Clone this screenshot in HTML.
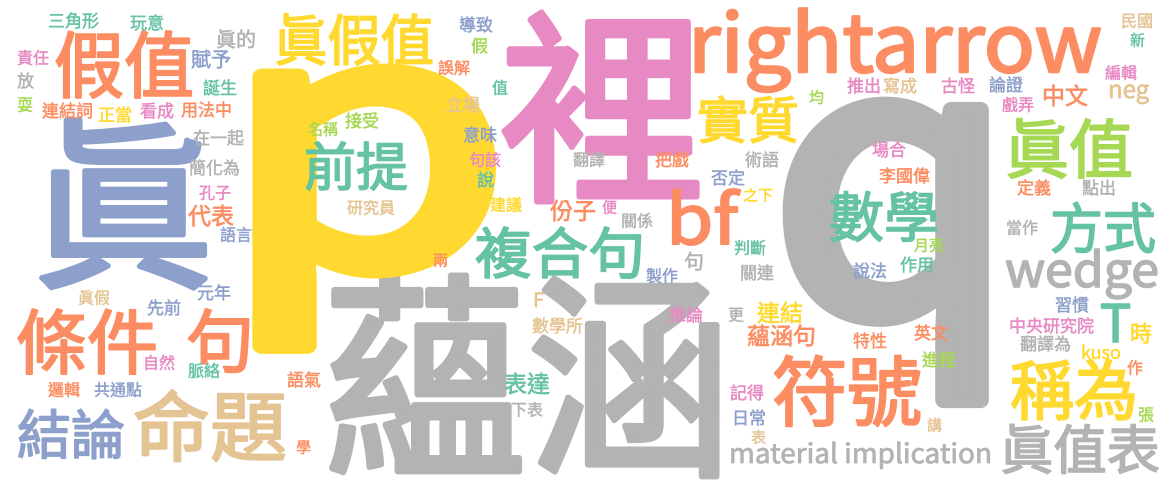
<!DOCTYPE html>
<html><head><meta charset="utf-8">
<style>
html,body{margin:0;padding:0;background:#fff;width:1175px;height:482px;overflow:hidden;}
svg{display:block;}
text{font-family:"Noto Sans CJK TC","Liberation Sans",sans-serif;stroke-linejoin:round;stroke-linecap:round;}
</style></head>
<body>
<svg id="cloud" width="1175" height="482" viewBox="0 0 1175 482" xmlns="http://www.w3.org/2000/svg"></svg>
<script>
const C={T:"#66c2a5",O:"#fc8d62",B:"#8da0cb",P:"#e78ac3",G:"#a6d854",Y:"#ffd92f",K:"#e5c494",R:"#b3b3b3"};
// [text, x, inkTop, fontSize, color, textLength, latinBaseline]
const words=[
["蘊涵",322,278,218,"R",410],
["q",770,0,376,"R",247,314],
["p",220,0,349,"Y",290,266],
["裡",500,15,205,"P"],
["眞",32,122,182,"B"],
["rightarrow",688,0,80,"O",414,72],
["假值",54,32,72,"O",140],
["眞假值",274,15,55,"Y",160],
["前提",304,143,52,"T",104],
["實質",697,97,50,"Y",102],
["眞值",1005,120,64,"G",128],
["bf",666,0,68,"O",72,244],
["數學",829,192,54,"T",110],
["方式",1050,203,54,"T",106],
["複合句",475,228,55,"T",170],
["wedge",1005,0,48,"R",154,287],
["T",1100,0,52,"T",0,342],
["條件",16,310,70,"O",142],
["句",186,310,68,"O"],
["命題",133,392,76,"K",154],
["結論",17,410,53,"B",108],
["符號",772,357,76,"O",150],
["稱為",1010,360,65,"Y",128],
["眞值表",1000,425,53,"R",160],
["material implication",729,0,27,"R",263,463],
["代表",188,205,23,"O"],["份子",550,200,23,"O"],["中文",1042,85,23,"O"],
["表達",504,373,23,"T"],["連結",757,302,23,"Y"],["蘊涵句",747,325,23,"O"],
["眞的",216,30,20,"R"],["賦予",191,50,20,"B"],["時",1130,323,22,"Y"],
["neg",1108,0,24,"K",0,98],["F",533,0,20,"K",0,307],["kuso",1081,0,18,"Y",0,359],
["三角形",48,13,17,"T"],["玩意",130,15,17,"T"],["導致",459,17,17,"B"],["假",471,38,17,"G"],
["責任",17,50,16,"P"],["誤解",438,60,16,"O"],["放",17,73,17,"R"],["誕生",203,80,17,"T"],
["值",492,80,16,"T"],["耍",17,97,16,"G"],["連結詞",42,103,17,"O"],["正當",98,107,17,"Y"],
["看成",140,103,17,"P"],["用法中",181,102,17,"O"],["立場",446,97,17,"K"],["名稱",308,122,15,"G"],
["接受",345,113,17,"G"],["在一起",193,130,17,"R"],["意味",463,127,17,"B"],["簡化為",189,160,17,"R"],
["句該",469,152,16,"P"],["孔子",199,185,16,"P"],["說",477,172,17,"T"],["研究員",347,200,16,"K"],
["建議",490,197,16,"Y"],["語言",220,227,16,"B"],
["民國",1121,13,16,"K"],["新",1130,33,15,"T"],["編輯",1105,65,16,"P"],["推出",847,78,17,"P"],
["寫成",883,78,17,"K"],["均",809,90,15,"G"],["古怪",941,78,17,"P"],["論證",989,77,17,"B"],
["戲弄",1002,97,16,"P"],["場合",872,142,17,"P"],["翻譯",573,152,16,"R"],["把戲",655,152,17,"O"],
["術語",745,152,17,"R"],["否定",711,170,17,"B"],["李國偉",879,168,17,"O"],["定義",1017,180,17,"O"],
["點出",1082,180,17,"R"],["之下",743,188,15,"Y"],["便",602,200,15,"P"],["關係",621,213,16,"R"],
["當作",1006,220,16,"R"],["月亮",914,238,15,"G"],
["兩",433,253,15,"O"],["元年",197,285,17,"B"],["眞假",78,290,16,"K"],["先前",147,300,17,"B"],
["數學所",532,318,17,"K"],["自然",143,355,16,"P"],["脈絡",188,363,16,"T"],["語氣",287,372,17,"O"],
["邏輯",48,382,16,"O"],["共通點",94,382,16,"B"],["下表",511,402,16,"R"],["學",296,440,15,"O"],
["判斷",734,240,16,"T"],["句",684,252,20,"R"],["製作",646,268,16,"B"],["關連",740,265,17,"R"],
["說法",853,263,17,"B"],["作用",900,257,17,"T"],["推論",669,307,17,"P"],["更",728,307,16,"R"],
["特性",853,333,17,"O"],["英文",914,325,17,"O"],["進程",922,352,17,"G"],["記得",730,385,17,"P"],
["日常",732,410,17,"B"],["講",927,418,15,"K"],["表",751,430,15,"K"],["習慣",1055,297,17,"B"],
["中央研究院",1009,318,17,"P"],["翻譯為",1020,336,17,"R"],["作",1127,360,16,"O"],["張",1138,407,16,"G"]
];
const svg=document.getElementById('cloud');
const NS="http://www.w3.org/2000/svg";
for(const w of words){
  const [txt,x,top,size,col,tl,bl]=w;
  const t=document.createElementNS(NS,'text');
  
  
  t.setAttribute('x',x);
  const base = bl ? bl : top + 0.83*size;
  t.setAttribute('y',base.toFixed(1));
  t.setAttribute('font-size',size);
  t.setAttribute('fill',C[col]);
  t.setAttribute('stroke',C[col]);
  t.setAttribute('stroke-width',(size>=300?16:size*0.03).toFixed(2));
  if(tl){t.setAttribute('textLength',tl);t.setAttribute('lengthAdjust','spacingAndGlyphs');}
  t.textContent=txt;
  svg.appendChild(t);
}
</script>
</body></html>
